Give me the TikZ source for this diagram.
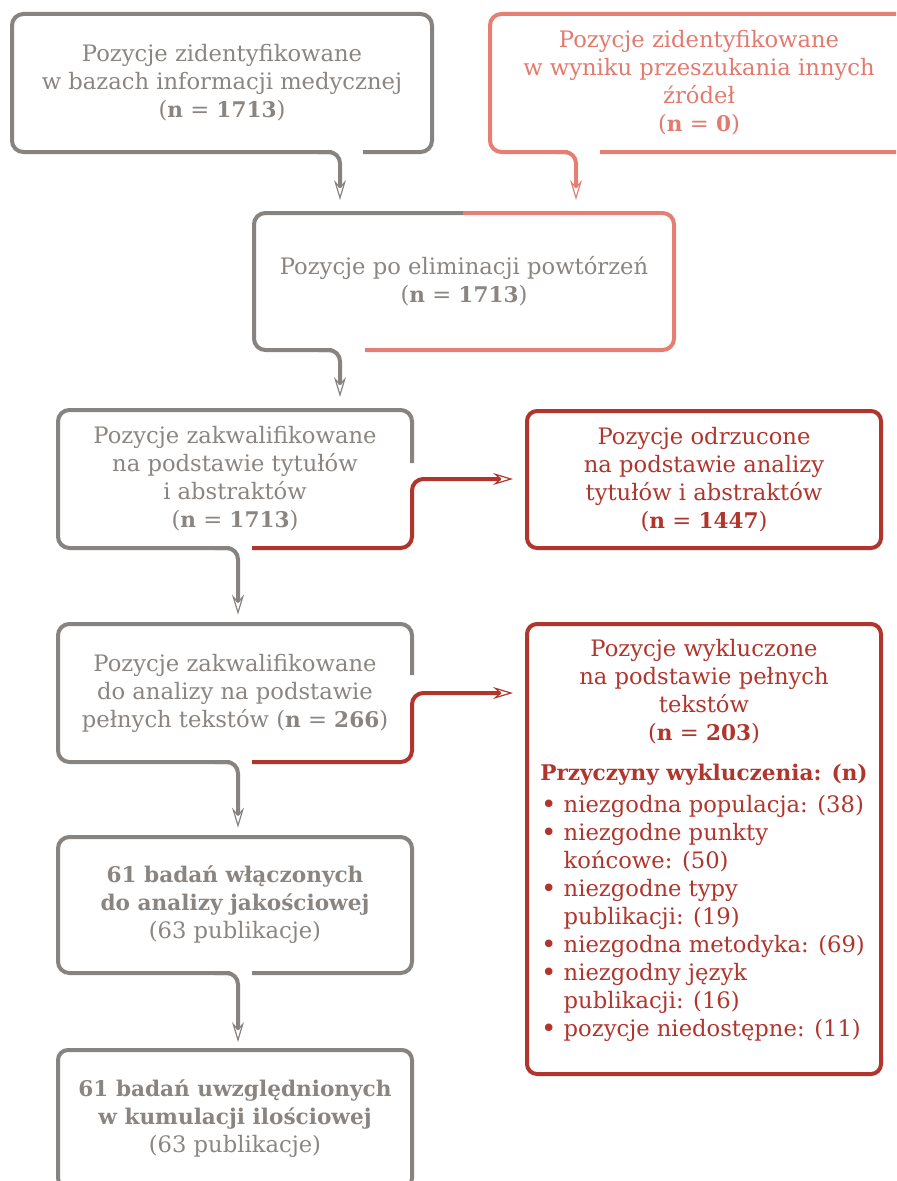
\documentclass[tikz,border=0pt]{standalone}
\usepackage{fontspec}
\setmainfont{DejaVu Serif}
\usetikzlibrary{arrows.meta,calc}

\definecolor{lgray}{HTML}{878380}
\definecolor{tgray}{HTML}{8A8581}
\definecolor{salmon}{HTML}{E57F74}
\definecolor{tsalmon}{HTML}{E27A6F}
\definecolor{dred}{HTML}{B0352C}

% bold text is set slightly smaller so that its width matches the regular face
\newcommand\bx[1]{{\fontsize{16.2}{21}\selectfont\bfseries #1}}
\newcommand\itembul{\makebox[17pt][l]{\raisebox{-1.2pt}{\scalebox{1.15}{\textbullet}}}}
\newcommand\itemind{\hspace*{17pt}}

\begin{document}
\begin{tikzpicture}[x=0.75pt,y=-0.75pt,
  boxnode/.style={inner sep=0pt, outer sep=0pt, align=center,
    font=\fontsize{17}{21}\selectfont},
  graybox/.style={boxnode, text=tgray},
  edge/.style={line width=3pt, rounded corners=8.5pt},
  gl/.style={edge, draw=lgray},
  sl/.style={edge, draw=salmon},
  rl/.style={edge, draw=dred},
  arr/.style={-{Stealth[open, length=15pt, width=9pt, inset=5pt, line width=0.9pt]}},
  ]
\useasboundingbox (0,0) rectangle (896,1181);
\clip (0,0) rectangle (896,1181);

% --- boxes -----------------------------------------------------------
\node[graybox, minimum width=315pt, minimum height=103.5pt] (B1) at (222,83)
  {Pozycje zidentyfikowane\\w bazach informacji medycznej\\(\bx{n} = \bx{1713})};
\node[boxnode, text=tsalmon, minimum width=313.5pt, minimum height=103.5pt] (B2) at (699,83)
  {Pozycje zidentyfikowane\\w wyniku przeszukania innych\\źródeł\\(\bx{n} = \bx{0})};
\node[graybox, minimum width=315pt, minimum height=102.75pt] (B3) at (464,281.5)
  {Pozycje po eliminacji powtórzeń\\(\bx{n} = \bx{1713})};
\node[graybox, minimum width=265.5pt, minimum height=103.5pt] (B4) at (235,479)
  {Pozycje zakwalifikowane\\na podstawie tytułów\\i abstraktów\\(\bx{n} = \bx{1713})};
\node[boxnode, text=dred, draw=dred, line width=3pt, rounded corners=7.5pt,
  minimum width=265.5pt, minimum height=102.75pt] (B5) at (704,479.5)
  {Pozycje odrzucone\\na podstawie analizy\\tytułów i abstraktów\\(\bx{n} = \bx{1447})};
\node[graybox, minimum width=265.5pt, minimum height=103.5pt] (B6) at (235,693)
  {Pozycje zakwalifikowane\\do analizy na podstawie\\pełnych tekstów (\bx{n} = \bx{266})};
\node[boxnode, draw=dred, line width=3pt, rounded corners=7.5pt,
  minimum width=265.5pt, minimum height=337.5pt] (B7) at (704,849) {};
\node[graybox, minimum width=265.5pt, minimum height=102pt] (B8) at (235,905)
  {\bx{61 badań włączonych}\\\bx{do analizy jakościowej}\\(63 publikacje)};
\node[graybox, draw=lgray, line width=3pt, rounded corners=7.5pt,
  minimum width=265.5pt, minimum height=103.5pt] (B9) at (235,1119)
  {\bx{61 badań uwzględnionych}\\\bx{w kumulacji ilościowej}\\(63 publikacje)};

% --- contents of the exclusion box ------------------------------------
\node[boxnode, text=dred] (T7) at (704,692)
  {Pozycje wykluczone\\na podstawie pełnych\\tekstów\\(\bx{n} = \bx{203})};
\node[boxnode, text=dred] (R7) at (704,775) {\bx{Przyczyny wykluczenia: (n)}};
\node[boxnode, text=dred, align=left, anchor=north west] (L7) at (541,795)
  {\itembul niezgodna populacja: (38)\\
   \itembul niezgodne punkty\\
   \itemind końcowe: (50)\\
   \itembul niezgodne typy\\
   \itemind publikacji: (19)\\
   \itembul niezgodna metodyka: (69)\\
   \itembul niezgodny język\\
   \itemind publikacji: (16)\\
   \itembul pozycje niedostępne: (11)};

% --- box outlines (open where a connector leaves) ---------------------
\draw[gl] (363,0 |- B1.south) -- (B1.south east) -- (B1.north east)
  -- (B1.north west) -- (B1.south west) -- (332,0 |- B1.south);
\draw[sl] (600,0 |- B2.south) -- (B2.south east) -- (B2.north east)
  -- (B2.north west) -- (B2.south west) -- (568,0 |- B2.south);
\draw[gl] (463,0 |- B3.north) -- (B3.north west) -- (B3.south west)
  -- (332,0 |- B3.south);
\draw[sl] (463,0 |- B3.north) -- (B3.north east) -- (B3.south east)
  -- (365,0 |- B3.south);
\draw[gl] ($(B4.north east)+(0,53)$) -- (B4.north east) -- (B4.north west)
  -- (B4.south west) -- (230,0 |- B4.south);
\draw[gl] ($(B6.north east)+(0,51)$) -- (B6.north east) -- (B6.north west)
  -- (B6.south west) -- (230,0 |- B6.south);
\draw[gl] (252,0 |- B8.south) -- (B8.south east) -- (B8.north east)
  -- (B8.north west) -- (B8.south west) -- (230,0 |- B8.south);

% --- connectors -------------------------------------------------------
\draw[gl, arr, shorten >=9.75pt] (318,0 |- B1.south) -- (340,0 |- B1.south)
  -- (340,0 |- B3.north);
\draw[sl, arr, shorten >=9.75pt] (555,0 |- B2.south) -- (576,0 |- B2.south)
  -- (576,0 |- B3.north);
\draw[gl, arr, shorten >=9.75pt] (318,0 |- B3.south) -- (340,0 |- B3.south)
  -- (340,0 |- B4.north);
\draw[gl, arr, shorten >=7pt] (215,0 |- B4.south) -- (238,0 |- B4.south)
  -- (238,0 |- B6.north);
\draw[rl, arr, shorten >=10.5pt] (252,0 |- B4.south) -- (B4.south east)
  -- (B4.east) -- (B4.east -| B5.west);
\draw[gl, arr, shorten >=7pt] (215,0 |- B6.south) -- (238,0 |- B6.south)
  -- (238,0 |- B8.north);
\draw[rl, arr, shorten >=10.5pt] (252,0 |- B6.south) -- (B6.south east)
  -- (B6.east) -- (B6.east -| B7.west);
\draw[gl, arr, shorten >=6pt] (215,0 |- B8.south) -- (238,0 |- B8.south)
  -- (238,0 |- B9.north);
\end{tikzpicture}
\end{document}
